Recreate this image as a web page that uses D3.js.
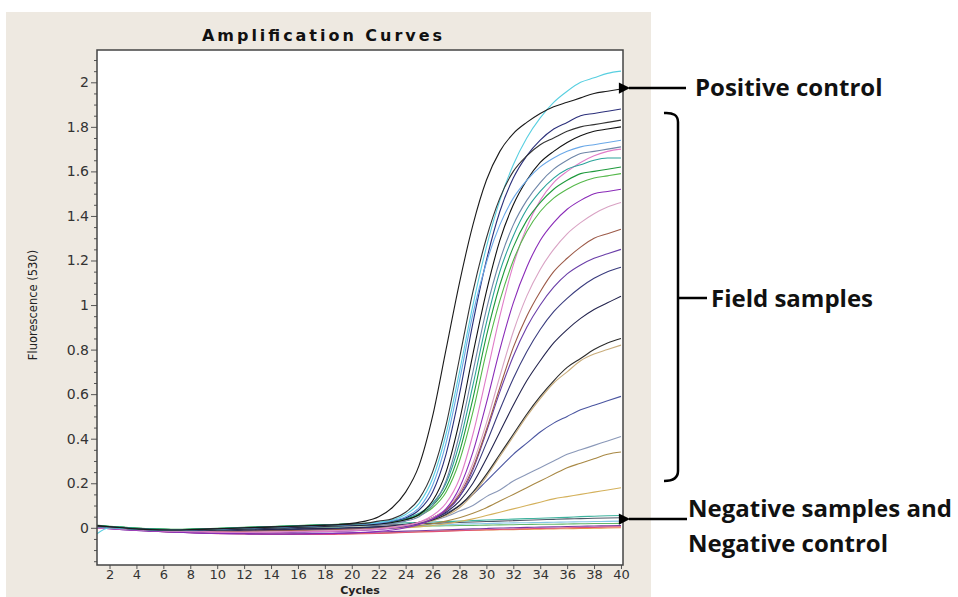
<!DOCTYPE html>
<html>
<head>
<meta charset="utf-8">
<script src="https://cdn.jsdelivr.net/npm/d3@7"></script>
<style>
  body { margin: 0; background: #fff; }
  svg { display: block; }
</style>
</head>
<body>
<div id="chart"></div>
<script>
////////////////////////////////////////////////////////////////////
////  Data
var cycles = d3.range(1, 41); // 1..40

var xTicks = [2,4,6,8,10,12,14,16,18,20,22,24,26,28,30,32,34,36,38,40];
var yTicks = [0,0.2,0.4,0.6,0.8,1,1.2,1.4,1.6,1.8,2];
var yTickLabels = ["0","0.2","0.4","0.6","0.8","1","1.2","1.4","1.6","1.8","2"];

var positiveControl = [0.01,0.005,0,-0.005,-0.008,-0.01,-0.01,-0.008,-0.006,-0.004,-0.002,0,0.002,0.004,0.006,0.008,0.01,0.012,0.015,0.02,0.03,0.05,0.09,0.16,0.28,0.50,0.80,1.10,1.36,1.56,1.69,1.77,1.82,1.86,1.89,1.91,1.93,1.95,1.96,1.97];
var fieldBlackA = [0.008,0.004,0,-0.004,-0.007,-0.009,-0.01,-0.009,-0.007,-0.005,-0.003,-0.001,0.001,0.003,0.005,0.007,0.009,0.011,0.013,0.016,0.02,0.03,0.04,0.07,0.13,0.25,0.46,0.76,1.06,1.30,1.48,1.60,1.67,1.72,1.75,1.78,1.80,1.81,1.82,1.83];
var fieldCyan = [-0.03,0.0,-0.002,-0.005,-0.008,-0.01,-0.01,-0.009,-0.007,-0.005,-0.003,-0.001,0.001,0.003,0.005,0.007,0.009,0.011,0.013,0.015,0.018,0.025,0.035,0.06,0.11,0.22,0.42,0.70,1.00,1.26,1.47,1.63,1.75,1.84,1.91,1.96,2.00,2.02,2.04,2.05];
var fieldLightBlue = [0.005,0.002,-0.002,-0.005,-0.008,-0.01,-0.011,-0.01,-0.008,-0.006,-0.004,-0.002,0,0.002,0.004,0.006,0.008,0.01,0.012,0.014,0.017,0.022,0.032,0.05,0.09,0.19,0.38,0.66,0.96,1.19,1.36,1.48,1.56,1.62,1.66,1.69,1.71,1.72,1.73,1.74];
var fieldNavyA = [0.008,0.003,-0.002,-0.006,-0.009,-0.011,-0.012,-0.011,-0.009,-0.007,-0.005,-0.003,-0.001,0.001,0.003,0.005,0.007,0.009,0.011,0.013,0.016,0.02,0.03,0.045,0.08,0.16,0.33,0.60,0.92,1.20,1.42,1.57,1.67,1.74,1.79,1.82,1.85,1.86,1.87,1.88];
var fieldBlackB = [0.006,0.002,-0.002,-0.006,-0.009,-0.011,-0.012,-0.012,-0.011,-0.009,-0.007,-0.005,-0.003,-0.001,0.001,0.003,0.005,0.007,0.009,0.011,0.013,0.017,0.024,0.036,0.06,0.12,0.25,0.48,0.78,1.06,1.29,1.45,1.56,1.64,1.69,1.73,1.76,1.78,1.79,1.80];
var fieldGrayBlue = [0.004,0.0,-0.004,-0.007,-0.01,-0.012,-0.013,-0.013,-0.012,-0.01,-0.008,-0.006,-0.004,-0.002,0,0.002,0.004,0.006,0.008,0.01,0.012,0.015,0.02,0.03,0.05,0.10,0.21,0.42,0.70,0.98,1.20,1.36,1.47,1.55,1.61,1.65,1.68,1.69,1.70,1.71];
var fieldTeal = [0.01,0.006,0.002,-0.002,-0.005,-0.007,-0.008,-0.007,-0.005,-0.003,-0.001,0.001,0.003,0.005,0.007,0.009,0.011,0.013,0.015,0.017,0.02,0.024,0.03,0.042,0.065,0.11,0.20,0.38,0.64,0.92,1.15,1.31,1.43,1.51,1.57,1.61,1.63,1.65,1.66,1.66];
var fieldGreenA = [0.012,0.007,0.003,-0.001,-0.004,-0.006,-0.007,-0.006,-0.004,-0.002,0,0.002,0.004,0.006,0.008,0.01,0.012,0.014,0.016,0.018,0.02,0.024,0.03,0.04,0.06,0.10,0.18,0.34,0.58,0.86,1.09,1.26,1.38,1.46,1.52,1.56,1.59,1.60,1.61,1.62];
var fieldGreenB = [0.01,0.006,0.002,-0.002,-0.005,-0.007,-0.008,-0.007,-0.005,-0.003,-0.001,0.001,0.003,0.005,0.007,0.009,0.011,0.013,0.015,0.017,0.019,0.022,0.027,0.036,0.055,0.09,0.16,0.30,0.52,0.79,1.02,1.20,1.33,1.42,1.48,1.52,1.55,1.57,1.58,1.59];
var fieldPink = [0.0,-0.003,-0.006,-0.009,-0.012,-0.014,-0.016,-0.017,-0.018,-0.019,-0.02,-0.02,-0.02,-0.02,-0.019,-0.018,-0.017,-0.016,-0.015,-0.013,-0.01,-0.006,0.0,0.01,0.025,0.055,0.11,0.22,0.42,0.68,0.95,1.18,1.35,1.47,1.55,1.60,1.64,1.67,1.69,1.70];
var fieldPurpleA = [0.0,-0.004,-0.008,-0.012,-0.015,-0.018,-0.02,-0.022,-0.024,-0.025,-0.026,-0.027,-0.028,-0.028,-0.028,-0.028,-0.027,-0.026,-0.025,-0.023,-0.02,-0.016,-0.01,0.0,0.015,0.04,0.085,0.18,0.34,0.56,0.80,1.01,1.17,1.29,1.37,1.43,1.47,1.50,1.51,1.52];
var fieldLightPink = [0.002,-0.002,-0.006,-0.01,-0.013,-0.015,-0.017,-0.018,-0.019,-0.02,-0.02,-0.02,-0.019,-0.018,-0.017,-0.016,-0.015,-0.014,-0.012,-0.01,-0.007,-0.003,0.003,0.012,0.024,0.045,0.085,0.16,0.29,0.47,0.68,0.88,1.04,1.16,1.25,1.32,1.37,1.41,1.44,1.46];
var fieldBrown = [0.004,0.0,-0.004,-0.008,-0.011,-0.013,-0.015,-0.016,-0.017,-0.017,-0.017,-0.016,-0.015,-0.014,-0.013,-0.012,-0.011,-0.01,-0.008,-0.006,-0.004,-0.001,0.004,0.012,0.025,0.045,0.08,0.15,0.27,0.44,0.63,0.81,0.95,1.06,1.15,1.21,1.26,1.30,1.32,1.34];
var fieldPurpleB = [0.002,-0.002,-0.006,-0.01,-0.013,-0.016,-0.018,-0.02,-0.021,-0.022,-0.023,-0.023,-0.023,-0.022,-0.021,-0.02,-0.019,-0.018,-0.016,-0.014,-0.011,-0.007,-0.002,0.006,0.018,0.04,0.075,0.14,0.26,0.43,0.61,0.77,0.90,1.00,1.08,1.14,1.18,1.21,1.23,1.25];
var fieldNavyB = [0.004,0.0,-0.004,-0.008,-0.011,-0.013,-0.015,-0.016,-0.016,-0.016,-0.015,-0.014,-0.013,-0.012,-0.011,-0.01,-0.009,-0.008,-0.006,-0.004,-0.002,0.001,0.005,0.012,0.024,0.045,0.08,0.14,0.24,0.38,0.53,0.67,0.79,0.89,0.97,1.03,1.08,1.12,1.15,1.17];
var fieldDarkNavy = [0.006,0.002,-0.002,-0.006,-0.009,-0.011,-0.012,-0.012,-0.012,-0.011,-0.01,-0.009,-0.008,-0.007,-0.006,-0.005,-0.004,-0.003,-0.002,0,0.002,0.005,0.009,0.015,0.025,0.04,0.07,0.12,0.20,0.31,0.43,0.55,0.66,0.75,0.83,0.89,0.94,0.98,1.01,1.04];
var fieldBlackC = [0.005,0.001,-0.003,-0.007,-0.01,-0.012,-0.013,-0.014,-0.014,-0.013,-0.012,-0.011,-0.01,-0.009,-0.008,-0.007,-0.006,-0.005,-0.004,-0.002,0,0.003,0.007,0.012,0.02,0.035,0.06,0.10,0.16,0.24,0.33,0.42,0.51,0.59,0.66,0.72,0.76,0.80,0.83,0.85];
var fieldTan = [0.003,-0.001,-0.005,-0.009,-0.012,-0.014,-0.015,-0.016,-0.016,-0.016,-0.015,-0.014,-0.013,-0.012,-0.011,-0.01,-0.009,-0.008,-0.007,-0.005,-0.003,0,0.004,0.01,0.018,0.032,0.055,0.09,0.15,0.23,0.32,0.41,0.50,0.58,0.65,0.70,0.75,0.78,0.80,0.82];
var fieldNavyC = [0.004,0.0,-0.004,-0.007,-0.01,-0.012,-0.013,-0.013,-0.013,-0.012,-0.011,-0.01,-0.009,-0.008,-0.007,-0.006,-0.005,-0.004,-0.003,-0.001,0.001,0.004,0.008,0.014,0.024,0.04,0.065,0.10,0.15,0.21,0.27,0.33,0.38,0.43,0.47,0.50,0.53,0.55,0.57,0.59];
var fieldSlate = [0.003,-0.001,-0.005,-0.008,-0.011,-0.013,-0.014,-0.015,-0.015,-0.014,-0.013,-0.012,-0.011,-0.01,-0.009,-0.008,-0.007,-0.006,-0.005,-0.003,-0.001,0.002,0.006,0.012,0.02,0.032,0.05,0.075,0.10,0.14,0.17,0.21,0.24,0.27,0.30,0.33,0.35,0.37,0.39,0.41];
var fieldOlive = [0.004,0.0,-0.004,-0.008,-0.011,-0.013,-0.015,-0.016,-0.016,-0.016,-0.015,-0.014,-0.013,-0.012,-0.011,-0.01,-0.009,-0.008,-0.007,-0.006,-0.004,-0.002,0.0,0.004,0.01,0.018,0.03,0.045,0.065,0.09,0.12,0.15,0.18,0.21,0.24,0.27,0.29,0.31,0.33,0.34];
var fieldYellowTan = [0.002,-0.002,-0.006,-0.009,-0.012,-0.014,-0.016,-0.017,-0.017,-0.017,-0.017,-0.016,-0.015,-0.014,-0.013,-0.012,-0.011,-0.01,-0.009,-0.008,-0.006,-0.004,-0.002,0.0,0.004,0.01,0.018,0.028,0.04,0.055,0.07,0.085,0.10,0.115,0.13,0.14,0.15,0.16,0.17,0.18];

var negTeal = [0.01,0.006,0.002,-0.002,-0.005,-0.007,-0.008,-0.007,-0.006,-0.004,-0.002,0,0.002,0.005,0.007,0.009,0.01,0.012,0.014,0.016,0.017,0.019,0.021,0.022,0.024,0.026,0.028,0.03,0.032,0.035,0.037,0.039,0.041,0.043,0.045,0.047,0.05,0.052,0.054,0.055];
var negSlate = [0.006,0.002,-0.002,-0.006,-0.009,-0.011,-0.012,-0.012,-0.011,-0.01,-0.008,-0.007,-0.005,-0.004,-0.002,0,0.002,0.004,0.006,0.008,0.01,0.012,0.014,0.016,0.018,0.02,0.022,0.024,0.026,0.028,0.03,0.032,0.034,0.036,0.038,0.04,0.041,0.043,0.044,0.045];
var negLightBlue = [0.004,0.0,-0.004,-0.007,-0.01,-0.012,-0.013,-0.013,-0.012,-0.011,-0.01,-0.009,-0.008,-0.007,-0.006,-0.005,-0.004,-0.002,-0.001,0,0.002,0.004,0.006,0.008,0.01,0.012,0.014,0.016,0.018,0.019,0.021,0.022,0.023,0.024,0.025,0.026,0.027,0.028,0.029,0.03];
var negGreen = [0.008,0.004,0.0,-0.004,-0.007,-0.009,-0.01,-0.01,-0.009,-0.008,-0.007,-0.006,-0.005,-0.004,-0.003,-0.002,-0.001,0,0.001,0.002,0.003,0.004,0.005,0.006,0.007,0.008,0.009,0.01,0.011,0.012,0.013,0.014,0.015,0.016,0.016,0.017,0.018,0.019,0.019,0.02];
var negPurple = [0.0,-0.004,-0.008,-0.012,-0.015,-0.018,-0.02,-0.022,-0.024,-0.025,-0.026,-0.027,-0.028,-0.028,-0.028,-0.027,-0.026,-0.025,-0.024,-0.023,-0.021,-0.019,-0.017,-0.015,-0.013,-0.011,-0.009,-0.007,-0.005,-0.003,-0.001,0,0.002,0.003,0.004,0.006,0.007,0.008,0.009,0.01];
var negPink = [0.002,-0.003,-0.007,-0.011,-0.014,-0.017,-0.02,-0.022,-0.024,-0.026,-0.027,-0.028,-0.029,-0.03,-0.03,-0.03,-0.03,-0.03,-0.029,-0.028,-0.027,-0.025,-0.023,-0.021,-0.019,-0.017,-0.015,-0.013,-0.011,-0.009,-0.007,-0.006,-0.004,-0.003,-0.002,0,0.001,0.002,0.004,0.005];
var negOrange = [0.003,-0.002,-0.006,-0.01,-0.013,-0.016,-0.018,-0.02,-0.022,-0.024,-0.025,-0.026,-0.027,-0.028,-0.028,-0.028,-0.028,-0.028,-0.027,-0.026,-0.025,-0.024,-0.022,-0.02,-0.018,-0.016,-0.014,-0.012,-0.011,-0.01,-0.009,-0.008,-0.007,-0.006,-0.005,-0.004,-0.003,-0.002,-0.001,0.0];

var series = [
  {name: "negOrange", values: negOrange, color: "#e89a48"},
  {name: "negPink", values: negPink, color: "#e0507a"},
  {name: "negPurple", values: negPurple, color: "#7a3aa0"},
  {name: "negGreen", values: negGreen, color: "#62b86a"},
  {name: "negLightBlue", values: negLightBlue, color: "#86c6e8"},
  {name: "negSlate", values: negSlate, color: "#505868"},
  {name: "negTeal", values: negTeal, color: "#3fb39e"},
  {name: "fieldYellowTan", values: fieldYellowTan, color: "#d4b15c"},
  {name: "fieldOlive", values: fieldOlive, color: "#a88844"},
  {name: "fieldSlate", values: fieldSlate, color: "#8a98b8"},
  {name: "fieldNavyC", values: fieldNavyC, color: "#4a55a0"},
  {name: "fieldTan", values: fieldTan, color: "#c9ad7c"},
  {name: "fieldBlackC", values: fieldBlackC, color: "#2a2a2a"},
  {name: "fieldDarkNavy", values: fieldDarkNavy, color: "#24244e"},
  {name: "fieldNavyB", values: fieldNavyB, color: "#3a3c7e"},
  {name: "fieldPurpleB", values: fieldPurpleB, color: "#6a3ea8"},
  {name: "fieldBrown", values: fieldBrown, color: "#9c5a48"},
  {name: "fieldLightPink", values: fieldLightPink, color: "#d9a3c4"},
  {name: "fieldPurpleA", values: fieldPurpleA, color: "#8a2bb8"},
  {name: "fieldPink", values: fieldPink, color: "#e07cc8"},
  {name: "fieldGreenB", values: fieldGreenB, color: "#55b84a"},
  {name: "fieldGreenA", values: fieldGreenA, color: "#1f9a3c"},
  {name: "fieldTeal", values: fieldTeal, color: "#2aa39a"},
  {name: "fieldGrayBlue", values: fieldGrayBlue, color: "#6f86a8"},
  {name: "fieldBlackB", values: fieldBlackB, color: "#111111"},
  {name: "fieldNavyA", values: fieldNavyA, color: "#2b2f7a"},
  {name: "fieldLightBlue", values: fieldLightBlue, color: "#6aa8e8"},
  {name: "fieldCyan", values: fieldCyan, color: "#58cfe0"},
  {name: "fieldBlackA", values: fieldBlackA, color: "#333333"},
  {name: "positiveControl", values: positiveControl, color: "#1a1a1a"}
];

////////////////////////////////////////////////////////////////////
////  Layout
var W = 958, H = 597;
var plot = {left: 97, right: 623, top: 50, bottom: 565};
var axisFont = "'DejaVu Sans', Verdana, sans-serif";

var svg = d3.select("#chart").append("svg")
  .attr("width", W)
  .attr("height", H)
  .style("font-family", axisFont);

// beige panel behind the chart
svg.append("rect")
  .attr("x", 6).attr("y", 12)
  .attr("width", 645).attr("height", H - 12)
  .attr("fill", "#eee9e1");

svg.append("rect")
  .attr("x", plot.left).attr("y", plot.top)
  .attr("width", plot.right - plot.left).attr("height", plot.bottom - plot.top)
  .attr("fill", "#fff");

// scales
var x = d3.scaleLinear().domain([1.07, 40.15]).range([plot.left, plot.right]);
var y = d3.scaleLinear().domain([-0.167, 2.145]).range([plot.bottom, plot.top]);

// title
svg.append("text")
  .attr("x", 322).attr("y", 41)
  .attr("text-anchor", "middle")
  .attr("font-family", axisFont)
  .attr("font-size", 16).attr("font-weight", "bold")
  .attr("textLength", 240).attr("lengthAdjust", "spacing")
  .attr("fill", "#111")
  .text("Amplification Curves");

// curves
svg.append("clipPath").attr("id", "clip")
  .append("rect")
  .attr("x", plot.left).attr("y", plot.top)
  .attr("width", plot.right - plot.left).attr("height", plot.bottom - plot.top);

var line = d3.line()
  .x(function(d, i) { return x(cycles[i]); })
  .y(function(d) { return y(d); })
  .curve(d3.curveMonotoneX);

svg.append("g").attr("clip-path", "url(#clip)")
  .selectAll("path")
  .data(series)
  .enter()
  .append("path")
    .attr("d", function(d) { return line(d.values); })
    .attr("fill", "none")
    .attr("stroke", function(d) { return d.color; })
    .attr("stroke-width", 1.1);

// y axis, minor ticks first
var yMinor = d3.range(-0.15, 2.15, 0.05).filter(function(v) {
  return Math.abs(Math.round(v / 0.2) * 0.2 - v) > 0.01;
});
svg.append("g")
  .attr("transform", "translate(" + plot.left + ",0)")
  .call(d3.axisLeft(y).tickValues(yMinor).tickSize(3).tickFormat(""))
  .call(function(g) { g.select(".domain").remove(); })
  .selectAll("line").attr("stroke", "#555");

var yAxis = svg.append("g")
  .attr("transform", "translate(" + plot.left + ",0)")
  .call(d3.axisLeft(y).tickValues(yTicks).tickSize(6).tickPadding(2)
    .tickFormat(function(d, i) { return yTickLabels[i]; }));
yAxis.select(".domain").remove();
yAxis.selectAll("line").attr("stroke", "#555");
yAxis.selectAll("text").attr("font-size", 14).attr("fill", "#333")
  .attr("font-family", axisFont);

// x axis
var xAxis = svg.append("g")
  .attr("transform", "translate(0," + plot.bottom + ")")
  .call(d3.axisBottom(x).tickValues(xTicks).tickSize(4).tickPadding(1));
xAxis.select(".domain").remove();
xAxis.selectAll("line").attr("stroke", "#555");
xAxis.selectAll("text").attr("font-size", 13).attr("fill", "#333")
  .attr("font-family", axisFont);

// frame
svg.append("rect")
  .attr("x", plot.left).attr("y", plot.top)
  .attr("width", plot.right - plot.left).attr("height", plot.bottom - plot.top)
  .attr("fill", "none").attr("stroke", "#444").attr("stroke-width", 1.5);

// axis titles
svg.append("text")
  .attr("x", 360).attr("y", 594)
  .attr("text-anchor", "middle")
  .attr("font-size", 11).attr("font-weight", "bold").attr("fill", "#222")
  .text("Cycles");

svg.append("text")
  .attr("transform", "translate(37,305) rotate(-90)")
  .attr("text-anchor", "middle")
  .attr("font-size", 11.5).attr("fill", "#222")
  .text("Fluorescence (530)");

////////////////////////////////////////////////////////////////////
////  Annotations on the right
var annFont = "'Open Sans', Lato, sans-serif";

svg.append("defs").append("marker")
  .attr("id", "head")
  .attr("viewBox", "0 0 10 10")
  .attr("refX", 1).attr("refY", 5)
  .attr("markerWidth", 5.5).attr("markerHeight", 4.5)
  .attr("orient", "auto-start-reverse")
  .append("path").attr("d", "M0,5 L10,0 L10,10 Z").attr("fill", "#000");

svg.append("line")
  .attr("x1", 686).attr("y1", 88).attr("x2", 629).attr("y2", 88)
  .attr("stroke", "#000").attr("stroke-width", 2.5)
  .attr("marker-end", "url(#head)");

svg.append("line")
  .attr("x1", 687).attr("y1", 519).attr("x2", 629).attr("y2", 519)
  .attr("stroke", "#000").attr("stroke-width", 2.5)
  .attr("marker-end", "url(#head)");

svg.append("path")
  .attr("d", "M664,113 Q678,112 678,122 L678,471 Q678,481 664,481 M678,298 L707,298")
  .attr("fill", "none").attr("stroke", "#000").attr("stroke-width", 2.5);

var notes = [
  {text: "Positive control", x: 695, y: 96},
  {text: "Field samples", x: 711, y: 307},
  {text: "Negative samples and", x: 688, y: 517},
  {text: "Negative control", x: 688, y: 552}
];
svg.selectAll(".note")
  .data(notes)
  .enter()
  .append("text")
    .attr("class", "note")
    .attr("x", function(d) { return d.x; })
    .attr("y", function(d) { return d.y; })
    .attr("font-family", annFont)
    .attr("font-size", 24).attr("font-weight", "bold")
    .attr("fill", "#111")
    .text(function(d) { return d.text; });
</script>
</body>
</html>
